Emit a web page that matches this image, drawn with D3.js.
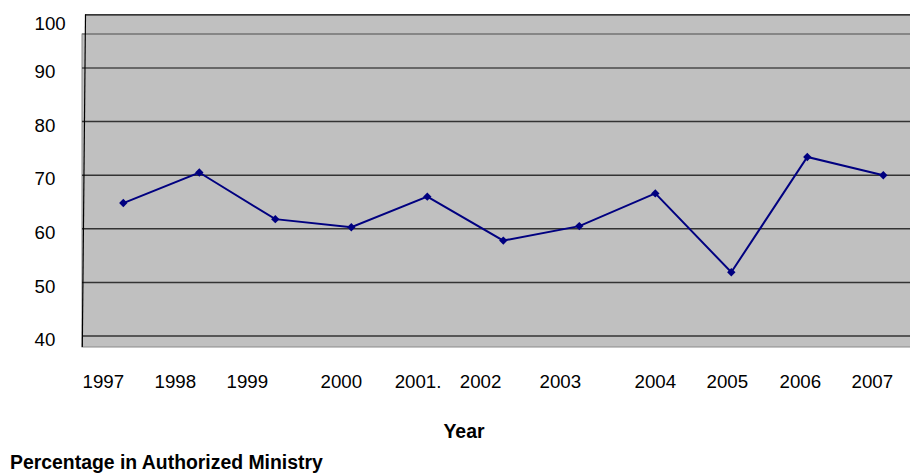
<!DOCTYPE html>
<html>
<head>
<meta charset="utf-8">
<script src="https://cdn.jsdelivr.net/npm/d3@7"></script>
<style>
  html, body { margin: 0; padding: 0; background: #fff; }
  svg { display: block; font-family: Arial, "Liberation Sans", sans-serif; }
</style>
</head>
<body>
<svg id="chart" width="910" height="474"></svg>
<script>
// ---- data ----
const years = ["1997","1998","1999","2000","2001","2002","2003","2004","2005","2006","2007"];
const values = [64.8, 70.5, 61.8, 60.3, 66.0, 57.8, 60.5, 66.6, 51.9, 73.4, 70.0];
const xTickLabels = ["1997","1998","1999","2000","2001.","2002","2003","2004","2005","2006","2007"];
const yTicks = [40, 50, 60, 70, 80, 90, 100];
const xTitle = "Year";
const chartTitle = "Percentage in Authorized Ministry";

// ---- layout / style (not data) ----
const labelNudge = [-20, -24, -28, -10, -9.3, -22.7, -19, 0, -4, -7, -11];
const svg = d3.select("#chart");
const wallLeft = 85, frontLeft = 82, right = 910;
const frontTop = 34, frontBottom = 347;

const y = d3.scaleLinear().domain([40, 100]).range([336, 14.4]);
const x = d3.scaleBand().domain(years).range([85.3, 921.3]);
const cx = d => x(d) + x.bandwidth() / 2;

// plot area (back wall + front frame)
svg.append("rect").attr("x", wallLeft).attr("y", y(100)).attr("width", right - wallLeft)
  .attr("height", y(40) - y(100)).attr("fill", "#c0c0c0");
svg.append("rect").attr("x", frontLeft).attr("y", frontTop).attr("width", right - frontLeft + 5)
  .attr("height", frontBottom - frontTop).attr("fill", "#c0c0c0")
  .attr("stroke", "#8a8a8a").attr("stroke-width", 1);

// top edge of wall
svg.append("line").attr("x1", wallLeft).attr("x2", right).attr("y1", y(100) + 0.5).attr("y2", y(100) + 0.5)
  .attr("stroke", "#000").attr("stroke-width", 1.3);
// front top edge
svg.append("line").attr("x1", frontLeft).attr("x2", right).attr("y1", frontTop).attr("y2", frontTop)
  .attr("stroke", "#7c7c7c").attr("stroke-width", 1.6);

// gridlines
svg.append("g").selectAll("line").data(yTicks.filter(v => v < 100)).join("line")
  .attr("x1", frontLeft).attr("x2", right)
  .attr("y1", d => y(d)).attr("y2", d => y(d))
  .attr("stroke", d => d === 90 ? "#4a4a4a" : "#333")
  .attr("stroke-width", 1.5);

// left slanted wall edge
svg.append("line").attr("x1", wallLeft + 0.5).attr("y1", y(100)).attr("x2", frontLeft + 0.3).attr("y2", frontBottom)
  .attr("stroke", "#000").attr("stroke-width", 1.2);

// y labels
svg.append("g").selectAll("text").data(yTicks).join("text")
  .attr("x", 34.5)
  .attr("y", d => Math.max(y(d) + 3.7, 23))
  .attr("dy", "0.35em")
  .attr("font-size", 18.7)
  .attr("fill", "#000")
  .text(d => d);

// line
const line = d3.line().x((d, i) => cx(years[i])).y(d => y(d));
svg.append("path").datum(values).attr("d", line)
  .attr("fill", "none").attr("stroke", "#000080").attr("stroke-width", 2);

// diamond markers
svg.append("g").selectAll("path").data(values).join("path")
  .attr("transform", (d, i) => `translate(${cx(years[i])},${y(d)})`)
  .attr("d", "M0,-4.2L4.2,0L0,4.2L-4.2,0Z")
  .attr("fill", "#000080");

// x labels
const xAxis = d3.axisBottom(x).tickSize(0).tickFormat((d, i) => xTickLabels[i]);
const gx = svg.append("g").attr("transform", "translate(0,375)").call(xAxis);
gx.select(".domain").remove();
gx.selectAll("text")
  .attr("font-size", 18.7).attr("font-family", "Arial, 'Liberation Sans', sans-serif")
  .attr("fill", "#000").attr("y", 0).attr("dy", "0.71em")
  .attr("dx", (d, i) => labelNudge[i]);

// axis title
svg.append("text").attr("x", 464).attr("y", 438).attr("text-anchor", "middle")
  .attr("font-size", 19.4).attr("font-weight", "bold").text(xTitle);

// chart title
svg.append("text").attr("x", 10).attr("y", 469)
  .attr("font-size", 19.4).attr("font-weight", "bold").text(chartTitle);
</script>
</body>
</html>
